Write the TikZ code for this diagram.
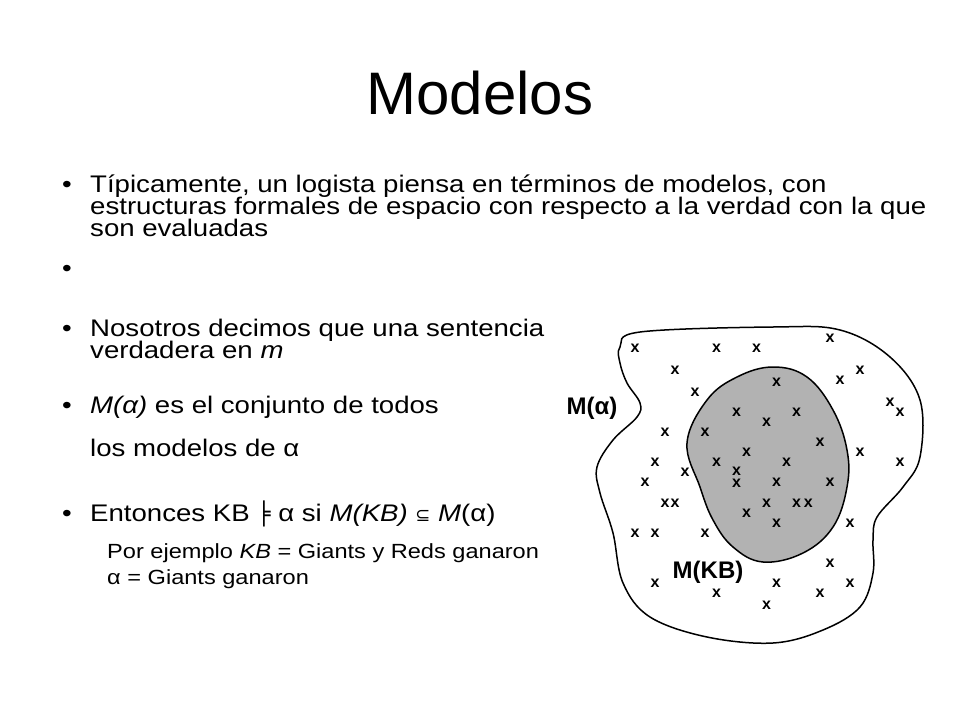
\documentclass[tikz,border=0pt]{standalone}
\usepackage{fontspec}
\setmainfont{Liberation Sans}[FakeStretch=1.15]
\newfontfamily\plain{Liberation Sans}
\newfontfamily\dv{DejaVu Sans}
\begin{document}
\begin{tikzpicture}[x=1pt,y=-1pt,
  txt/.style={anchor=base west,inner sep=0pt,font=\fontsize{24}{26}\selectfont},
  small/.style={anchor=base west,inner sep=0pt,font=\fontsize{20.5}{22}\selectfont},
  xmark/.style={inner sep=0pt,font=\plain\bfseries\fontsize{16}{16}\selectfont},
  lbl/.style={inner sep=0pt,font=\plain\bfseries\fontsize{24}{24}\selectfont}]
\useasboundingbox (0,0) rectangle (960,720);
\node[inner sep=0pt,font=\plain\fontsize{60}{64}\selectfont] (title) at (480,93) {Modelos};
\node[txt] (b1) at (62,192) {•};
\node[txt] (t1) at (90,192) {Típicamente, un logista piensa en términos de modelos, con};
\node[txt] (t1b) at (90,214) {estructuras formales de espacio con respecto a la verdad con la que};
\node[txt] (t1c) at (90,236) {son evaluadas};
\node[txt] (b2) at (62,276) {•};
\node[txt] (b3) at (62,336) {•};
\node[txt] (t3) at (90,336) {Nosotros decimos que una sentencia m es};
\node[txt] (t3b) at (90,358) {verdadera en \textit{m}};
\node[txt] (b4) at (62,413) {•};
\node[txt] (t4) at (90,413) {\textit{M(α)} es el conjunto de todos};
\node[txt] (t4b) at (90,456) {los modelos de α};
\node[txt] (b5) at (62,521) {•};
\node[txt] (t5) at (90,521) {Entonces KB {\dv\fontsize{22}{24}\selectfont╞} α si \textit{M(KB)} {\dv\fontsize{18}{20}\selectfont⊆} \textit{M}(α)};
\node[small] (t6) at (107,558) {Por ejemplo \textit{KB} = Giants y Reds ganaron};
\node[small] (t7) at (107,584) {α = Giants ganaron};
\fill[white] (553,310) rectangle (960,340);
\draw[line width=1.5pt,fill=white] plot[smooth cycle,tension=0.6] coordinates {
 (620,347) (640,332) (773,327) (840,330) (890,357) (920,400) (920,457) (903,487)
 (877,517) (873,540) (873,573) (860,607) (823,630) (773,643) (707,637) (650,617)
 (623,583) (613,533) (600,493) (597,467) (613,440) (637,417) (640,403) (627,383) (620,363)};
\draw[line width=1.5pt,fill=black!30] plot[smooth cycle,tension=0.65] coordinates {
 (687,443) (707,400) (737,377) (773,367) (807,377) (833,410) (847,450) (847,487)
 (833,527) (803,553) (763,562) (733,547) (713,520) (700,487)};
\foreach \a/\b in {285/155,530/155,650/155,870/125,405/220,710/255,900/250,960/220,465/285,590/345,680/375,770/345,1050/315,1080/345,375/405,495/405,840/435,620/465,960/465,345/495,530/495,740/495,1080/495,435/525,590/522,590/558,315/555,710/555,870/555,375/620,405/620,680/620,770/620,805/620,620/650,710/680,930/680,285/710,345/710,495/710,870/800,345/860,710/860,930/860,530/890,840/890,680/925}
  \node[xmark] at ({\a/3+540},{\b/3+297}) {x};
\node[lbl] (ma) at (592,408) {M(α)};
\node[lbl] (mkb) at (708,572) {M(KB)};
\end{tikzpicture}
\end{document}
